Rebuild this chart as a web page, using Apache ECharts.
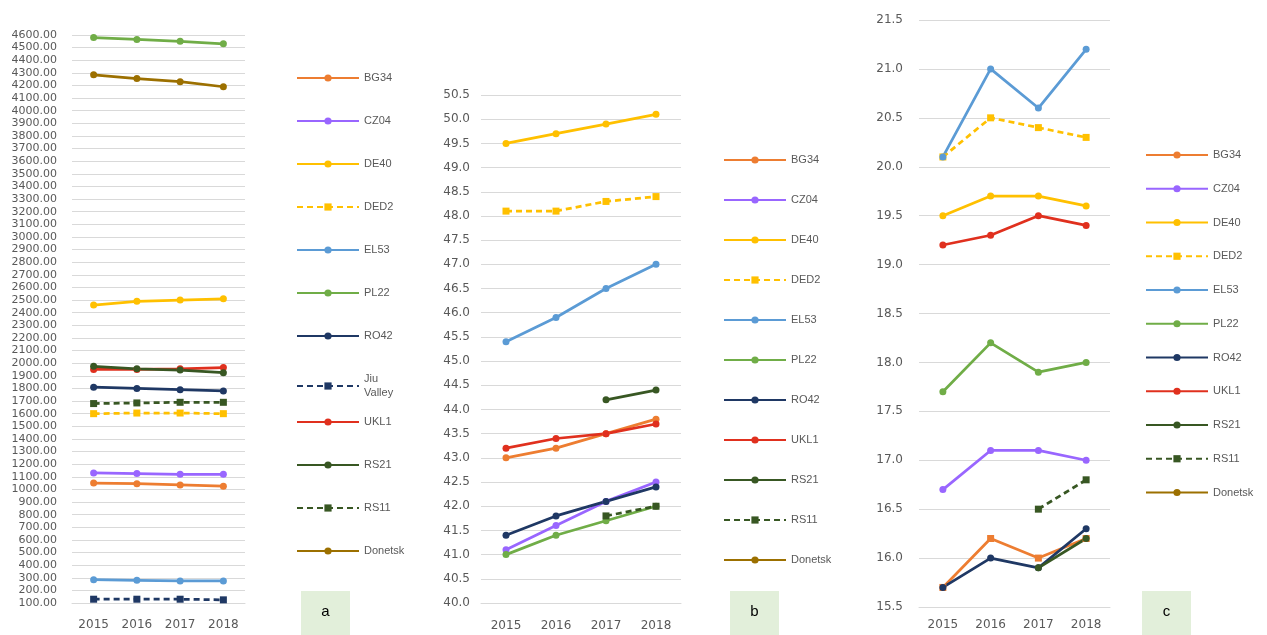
<!DOCTYPE html>
<html>
<head>
<meta charset="utf-8">
<script src="https://cdn.jsdelivr.net/npm/echarts@6/dist/echarts.min.js"></script>
<style>
  html, body { margin: 0; padding: 0; background: #fff; }
  #chart { width: 1267px; height: 635px; }
</style>
</head>
<body>
<div id="chart"></div>
<script>
// Years on every horizontal axis
const years = ['2015', '2016', '2017', '2018'];

// Region order used by the legends
const regionsA = ['BG34', 'CZ04', 'DE40', 'DED2', 'EL53', 'PL22', 'RO42', 'Jiu Valley', 'UKL1', 'RS21', 'RS11', 'Donetsk'];
const regionsBC = ['BG34', 'CZ04', 'DE40', 'DED2', 'EL53', 'PL22', 'RO42', 'UKL1', 'RS21', 'RS11', 'Donetsk'];

// Panel a
const a_BG34 = [1050, 1045, 1035, 1025];
const a_CZ04 = [1130, 1125, 1120, 1120];
const a_DE40 = [2460, 2490, 2500, 2510];
const a_DED2 = [1600, 1605, 1605, 1600];
const a_EL53 = [285, 280, 275, 275];
const a_PL22 = [4580, 4565, 4550, 4530];
const a_RO42 = [1810, 1800, 1790, 1780];
const a_Jiu = [130, 130, 130, 125];
const a_UKL1 = [1950, 1950, 1955, 1965];
const a_RS21 = [1975, 1955, 1945, 1925];
const a_RS11 = [1680, 1685, 1690, 1690];
const a_Donetsk = [4285, 4255, 4230, 4190];

// Panel b
const b_BG34 = [43.0, 43.2, 43.5, 43.8];
const b_CZ04 = [41.1, 41.6, 42.1, 42.5];
const b_DE40 = [49.5, 49.7, 49.9, 50.1];
const b_DED2 = [48.1, 48.1, 48.3, 48.4];
const b_EL53 = [45.4, 45.9, 46.5, 47.0];
const b_PL22 = [41.0, 41.4, 41.7, 42.0];
const b_RO42 = [41.4, 41.8, 42.1, 42.4];
const b_UKL1 = [43.2, 43.4, 43.5, 43.7];
const b_RS21 = [null, null, 44.2, 44.4];
const b_RS11 = [null, null, 41.8, 42.0];
const b_Donetsk = [null, null, null, null];

// Panel c
const c_BG34 = [15.7, 16.2, 16.0, 16.2];
const c_CZ04 = [16.7, 17.1, 17.1, 17.0];
const c_DE40 = [19.5, 19.7, 19.7, 19.6];
const c_DED2 = [20.1, 20.5, 20.4, 20.3];
const c_EL53 = [20.1, 21.0, 20.6, 21.2];
const c_PL22 = [17.7, 18.2, 17.9, 18.0];
const c_RO42 = [15.7, 16.0, 15.9, 16.3];
const c_UKL1 = [19.2, 19.3, 19.5, 19.4];
const c_RS21 = [null, null, 15.9, 16.2];
const c_RS11 = [null, null, 16.5, 16.8];
const c_Donetsk = [null, null, null, null];

// Line colour and dash per region
const styles = {
  'BG34':       { color: '#ED7D31', dashed: false },
  'CZ04':       { color: '#9966FF', dashed: false },
  'DE40':       { color: '#FFC000', dashed: false },
  'DED2':       { color: '#FFC000', dashed: true },
  'EL53':       { color: '#5B9BD5', dashed: false },
  'PL22':       { color: '#70AD47', dashed: false },
  'RO42':       { color: '#1F3864', dashed: false },
  'Jiu Valley': { color: '#1F3864', dashed: true },
  'UKL1':       { color: '#E0301E', dashed: false },
  'RS21':       { color: '#385723', dashed: false },
  'RS11':       { color: '#385723', dashed: true },
  'Donetsk':    { color: '#9C7000', dashed: false }
};

function mk(name, data, idx, symbol) {
  const s = styles[name];
  return {
    type: 'line',
    name: name,
    data: data,
    xAxisIndex: idx,
    yAxisIndex: idx,
    symbol: symbol || (s.dashed ? 'rect' : 'circle'),
    symbolSize: 7,
    showSymbol: true,
    connectNulls: false,
    animation: false,
    itemStyle: { color: s.color },
    lineStyle: { color: s.color, width: 2.75, type: s.dashed ? [6, 4] : 'solid' },
    emphasis: { disabled: true }
  };
}

const series = [
  mk('BG34', a_BG34, 0), mk('CZ04', a_CZ04, 0), mk('DE40', a_DE40, 0), mk('DED2', a_DED2, 0),
  mk('EL53', a_EL53, 0), mk('PL22', a_PL22, 0), mk('RO42', a_RO42, 0), mk('Jiu Valley', a_Jiu, 0),
  mk('UKL1', a_UKL1, 0), mk('RS21', a_RS21, 0), mk('RS11', a_RS11, 0), mk('Donetsk', a_Donetsk, 0),

  mk('BG34', b_BG34, 1), mk('CZ04', b_CZ04, 1), mk('DE40', b_DE40, 1), mk('DED2', b_DED2, 1),
  mk('EL53', b_EL53, 1), mk('PL22', b_PL22, 1), mk('RO42', b_RO42, 1), mk('UKL1', b_UKL1, 1),
  mk('RS21', b_RS21, 1), mk('RS11', b_RS11, 1), mk('Donetsk', b_Donetsk, 1),

  mk('BG34', c_BG34, 2, 'rect'), mk('CZ04', c_CZ04, 2), mk('DE40', c_DE40, 2), mk('DED2', c_DED2, 2),
  mk('EL53', c_EL53, 2), mk('PL22', c_PL22, 2), mk('RO42', c_RO42, 2), mk('UKL1', c_UKL1, 2),
  mk('RS21', c_RS21, 2), mk('RS11', c_RS11, 2), mk('Donetsk', c_Donetsk, 2)
];

const labelColor = '#595959';
const gridColor = '#D9D9D9';
const axisFont = "'DejaVu Sans', sans-serif";
const legendFont = "'Liberation Sans', Arial, sans-serif";

function xAx(idx, margin) {
  return {
    type: 'category', gridIndex: idx, data: years, boundaryGap: true,
    axisLine: { show: true, lineStyle: { color: gridColor, width: 1 } },
    axisTick: { show: false },
    axisLabel: { color: labelColor, fontSize: 12, fontFamily: axisFont, margin: margin }
  };
}

function yAx(idx, min, max, step, digits, fs, margin) {
  return {
    type: 'value', gridIndex: idx, min: min, max: max, interval: step,
    axisLine: { show: false }, axisTick: { show: false },
    splitLine: { show: true, lineStyle: { color: gridColor, width: 1 } },
    axisLabel: {
      color: labelColor, fontSize: fs, fontFamily: axisFont, margin: margin,
      formatter: v => v.toFixed(digits)
    }
  };
}

function legend(names, left, top, gap, formatter) {
  return {
    data: names, orient: 'vertical', left: left, top: top,
    itemGap: gap, itemWidth: 62, itemHeight: 9, padding: 0,
    selectedMode: false,
    textStyle: { color: labelColor, fontSize: 11, fontFamily: legendFont, lineHeight: 14 },
    formatter: formatter || (n => n)
  };
}

// Small letter tags under each legend
function tag(letter, x, y) {
  return {
    type: 'group', left: x, top: y,
    children: [
      { type: 'rect', shape: { x: 0, y: 0, width: 49, height: 44 }, style: { fill: '#E2EFDA' } },
      { type: 'text', x: 24.5, y: 21, style: { text: letter, fill: '#000', font: "15px 'Liberation Sans', Arial", align: 'center', verticalAlign: 'middle' } }
    ]
  };
}

const chart = echarts.init(document.getElementById('chart'), null, { renderer: 'canvas' });
chart.setOption({
  backgroundColor: '#ffffff',
  animation: false,
  grid: [
    { left: 72, top: 35, width: 173, height: 568 },
    { left: 481, top: 95, width: 200, height: 508 },
    { left: 919, top: 20, width: 191, height: 587 }
  ],
  xAxis: [xAx(0, 16), xAx(1, 17), xAx(2, 12)],
  yAxis: [
    yAx(0, 100, 4600, 100, 2, 11, 15),
    yAx(1, 40, 50.5, 0.5, 1, 12, 11),
    yAx(2, 15.5, 21.5, 0.5, 1, 12, 16)
  ],
  legend: [
    legend(regionsA.slice(0, 8), 296, 71, 29, n => n === 'Jiu Valley' ? 'Jiu\nValley' : n),
    legend(regionsA.slice(8), 296, 415, 29),
    legend(regionsBC, 723, 153, 26),
    legend(regionsBC, 1145, 148, 19.75)
  ],
  graphic: [tag('a', 301, 591), tag('b', 730, 591), tag('c', 1142, 591)],
  series: series
});
</script>
</body>
</html>
